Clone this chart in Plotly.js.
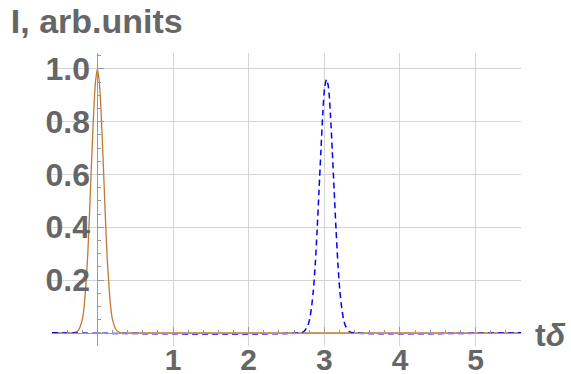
<!DOCTYPE html>
<html>
<head>
<meta charset="utf-8">
<script src="https://cdn.plot.ly/plotly-3.0.1.min.js"></script>
<style>
  html, body { margin: 0; padding: 0; background: #ffffff; }
  #plot { width: 571px; height: 374px; }
</style>
</head>
<body>
<div id="plot"></div>
<script>
// Pulse at t = 0 (solid) and the delayed pulse near tδ = 3 (dashed)
const pulse0X = [-0.6, -0.35, -0.3, -0.25, -0.2, -0.175, -0.15, -0.125, -0.1, -0.075, -0.05, -0.025,
                 0, 0.025, 0.05, 0.075, 0.1, 0.125, 0.15, 0.175, 0.2, 0.25, 0.3, 0.35, 5.6];
const pulse0Y = [0, 0, 0.001, 0.01, 0.05, 0.10, 0.19, 0.31, 0.48, 0.66, 0.83, 0.95,
                 1.0, 0.95, 0.83, 0.66, 0.48, 0.31, 0.19, 0.10, 0.05, 0.01, 0.001, 0, 0];

const pulse1X = [-0.6, 2.68, 2.73, 2.78, 2.805, 2.83, 2.855, 2.88, 2.905, 2.93, 2.955, 2.98, 3.005,
                 3.03, 3.055, 3.08, 3.105, 3.13, 3.155, 3.18, 3.205, 3.23, 3.255, 3.28, 3.33, 3.38, 5.6];
const pulse1Y = [0, 0, 0.005, 0.026, 0.05, 0.095, 0.16, 0.26, 0.39, 0.54, 0.69, 0.83, 0.93,
                 0.96, 0.93, 0.83, 0.69, 0.54, 0.39, 0.26, 0.16, 0.095, 0.05, 0.026, 0.005, 0, 0];

// Axis labels
const xTickVals = [1, 2, 3, 4, 5];
const xTickText = ['1', '2', '3', '4', '5'];
const yTickVals = [0.2, 0.4, 0.6, 0.8, 1.0];
const yTickText = ['0.2', '0.4', '0.6', '0.8', '1.0'];

const xRange = [-0.6, 5.6];
const yRange = [-0.05, 1.06];

const fontFamily = 'Liberation Sans, Arial, sans-serif';
const yLabelFont = { family: fontFamily, size: 32, color: '#666666', weight: 'bold' };
const xLabelFont = { family: fontFamily, size: 30, color: '#666666', weight: 'bold' };
const axisGray = '#9a9a9a';

const traces = [
  {
    x: pulse0X, y: pulse0Y, type: 'scatter', mode: 'lines',
    line: { color: 'rgb(192,120,50)', width: 1.3, shape: 'spline', smoothing: 0.8 },
    xaxis: 'x', yaxis: 'y', hoverinfo: 'skip'
  },
  {
    x: pulse1X, y: pulse1Y, type: 'scatter', mode: 'lines',
    line: { color: 'rgb(0,0,255)', width: 1.5, dash: '6px,4px', shape: 'spline', smoothing: 0.8 },
    xaxis: 'x2', yaxis: 'y2', hoverinfo: 'skip'
  }
];

// position of the crossing axes, as fractions of the plot area
const x0Frac = (0 - xRange[0]) / (xRange[1] - xRange[0]);
const y0Frac = (0 - yRange[0]) / (yRange[1] - yRange[0]);

const layout = {
  width: 571, height: 374,
  margin: { l: 52, r: 50, t: 53, b: 28, pad: 0 },
  paper_bgcolor: '#ffffff', plot_bgcolor: '#ffffff',
  showlegend: false,
  title: {
    text: 'I, arb.units',
    font: { family: fontFamily, size: 34, color: '#666666', weight: 'bold' },
    xref: 'container', x: 0.019, xanchor: 'left',
    yref: 'container', y: 0.975, yanchor: 'top'
  },
  // grid carriers
  xaxis: {
    range: xRange, tickvals: xTickVals, showticklabels: false, ticks: '',
    showgrid: true, gridcolor: '#d4d4d4', gridwidth: 1,
    zeroline: false, showline: false, fixedrange: true
  },
  yaxis: {
    range: yRange, tickvals: yTickVals, showticklabels: false, ticks: '',
    showgrid: true, gridcolor: '#d4d4d4', gridwidth: 1,
    zeroline: false, showline: false, fixedrange: true
  },
  // axes crossing at the origin
  xaxis2: {
    overlaying: 'x', anchor: 'free', position: y0Frac, side: 'bottom',
    range: xRange, tickvals: xTickVals, ticktext: xTickText,
    tickfont: xLabelFont, ticks: 'inside', ticklen: 6, tickcolor: axisGray, tickwidth: 1,
    minor: { tick0: 0, dtick: 0.2, ticks: 'inside', ticklen: 3, tickcolor: axisGray, showgrid: false },
    showline: true, linecolor: axisGray, linewidth: 1,
    showgrid: false, zeroline: false, fixedrange: true, ticklabelstandoff: 0
  },
  yaxis2: {
    overlaying: 'y', anchor: 'free', position: x0Frac, side: 'left',
    range: yRange, tickvals: yTickVals, ticktext: yTickText,
    tickfont: yLabelFont, ticks: 'inside', ticklen: 6, tickcolor: axisGray, tickwidth: 1,
    minor: { tick0: 0, dtick: 0.05, ticks: 'inside', ticklen: 3, tickcolor: axisGray, showgrid: false },
    showline: true, linecolor: axisGray, linewidth: 1,
    showgrid: false, zeroline: false, fixedrange: true, ticklabelstandoff: 1
  },
  annotations: [
    {
      text: '<b>t<i>δ</i></b>', xref: 'paper', yref: 'y', x: 1.025, y: 0,
      xanchor: 'left', yanchor: 'middle', yshift: -2, showarrow: false,
      font: { family: fontFamily, size: 32, color: '#666666' }
    }
  ]
};

Plotly.newPlot('plot', traces, layout, { staticPlot: true, displayModeBar: false });
</script>
</body>
</html>
